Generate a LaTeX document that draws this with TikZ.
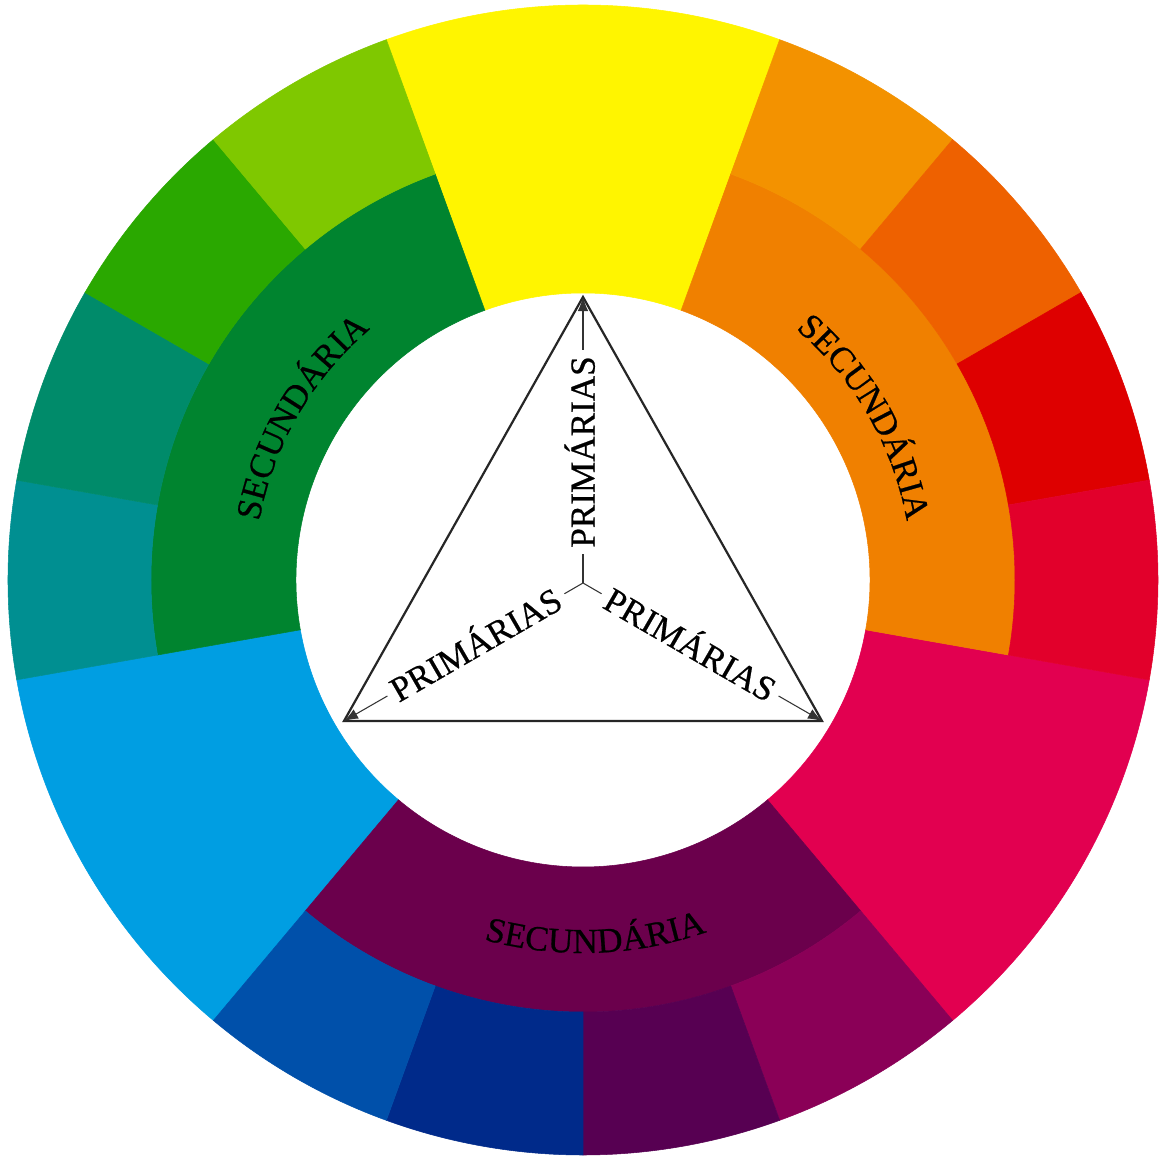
\documentclass[tikz,border=0pt]{standalone}
\usepackage{fontspec}
\setmainfont{Liberation Serif}
\newfontfamily\wheelfont[FakeBold=0.6]{Liberation Serif}
\usetikzlibrary{decorations.text,arrows.meta}

\definecolor{cYellow}{HTML}{FFF500}
\definecolor{cMagenta}{HTML}{E20050}
\definecolor{cCyan}{HTML}{009EE2}
\definecolor{cOrange}{HTML}{F08000}
\definecolor{cPurple}{HTML}{6B004C}
\definecolor{cGreen}{HTML}{00842F}
\definecolor{tLightOrange}{HTML}{F39200}
\definecolor{tDarkOrange}{HTML}{EE6100}
\definecolor{tRed}{HTML}{DE0000}
\definecolor{tCrimson}{HTML}{E2002B}
\definecolor{tRedViolet}{HTML}{8A0057}
\definecolor{tViolet}{HTML}{570052}
\definecolor{tNavy}{HTML}{002A8A}
\definecolor{tBlue}{HTML}{0050AA}
\definecolor{tTeal}{HTML}{008F91}
\definecolor{tSeaGreen}{HTML}{008B6A}
\definecolor{tGrassGreen}{HTML}{2AA800}
\definecolor{tLime}{HTML}{7FC800}

\newcommand{\ringpart}[5]{% colour, start angle, end angle, inner radius, outer radius
  \filldraw[fill=#1, draw=#1, line width=0.3pt] (#2:#4) arc[start angle=#2, end angle=#3, radius=#4]
    -- (#3:#5) arc[start angle=#3, end angle=#2, radius=#5] -- cycle;}
\newcommand{\secfont}{\wheelfont\fontsize{20}{24}\selectfont}

\tikzset{
  tri/.style={draw=black!85, line width=1.25pt, line join=miter},
  lbl/.style={draw=black!80, line width=0.6pt},
  tip/.style={-{Latex[length=8pt,width=6pt]}},
  prim/.style={font=\wheelfont\fontsize{20}{24}\selectfont, inner xsep=3.5pt, inner ysep=0pt,
               text height=13.2pt, text depth=0pt},
  curvedtext/.style={decorate, decoration={text along path, text align=center, text={|\secfont|#1}}}
}

\begin{document}
\begin{tikzpicture}[x=0.02cm, y=0.02cm]
\useasboundingbox (-583,-578) rectangle (580,580);
\fill[white] (-583,-578) rectangle (580,580);

% primaries
\ringpart{cYellow}{70}{110}{287}{575}
\ringpart{cMagenta}{-50}{-10}{287}{575}
\ringpart{cCyan}{190}{230}{287}{575}
% secondaries
\ringpart{cOrange}{-10}{70}{287}{432}
\ringpart{cPurple}{230}{310}{287}{432}
\ringpart{cGreen}{110}{190}{287}{432}
% tertiaries
\ringpart{tLightOrange}{50}{70}{432}{575}
\ringpart{tDarkOrange}{30}{50}{432}{575}
\ringpart{tRed}{10}{30}{432}{575}
\ringpart{tCrimson}{-10}{10}{432}{575}
\ringpart{tRedViolet}{-70}{-50}{432}{575}
\ringpart{tViolet}{-90}{-70}{432}{575}
\ringpart{tNavy}{-110}{-90}{432}{575}
\ringpart{tBlue}{-130}{-110}{432}{575}
\ringpart{tTeal}{170}{190}{432}{575}
\ringpart{tSeaGreen}{150}{170}{432}{575}
\ringpart{tGrassGreen}{130}{150}{432}{575}
\ringpart{tLime}{110}{130}{432}{575}

% curved labels
\path[curvedtext={SECUNDÁRIA}] (190:329) arc[start angle=190, end angle=110, radius=329];
\path[curvedtext={SECUNDÁRIA}] (70:329) arc[start angle=70, end angle=-10, radius=329];
\path[curvedtext={SECUNDÁRIA}] (-128:373) arc[start angle=-128, end angle=-48, radius=373];

% triangle
\coordinate (T) at (0,283);
\coordinate (L) at (-239,-141);
\coordinate (R) at (239,-141);
\coordinate (J) at (0,-3);
\draw[tri] (T) -- (L) -- (R) -- cycle;

\node[prim, rotate=90] (pt) at (0,128) {PRIMÁRIAS};
\node[prim, rotate=30] (pl) at (-107,-65) {PRIMÁRIAS};
\node[prim, rotate=-30] (pr) at (107,-65) {PRIMÁRIAS};

\draw[lbl] (J) -- (pt);
\draw[lbl] (J) -- (pl);
\draw[lbl] (J) -- (pr);
\draw[lbl, tip] (pt) -- (T);
\draw[lbl, tip] (pl) -- (L);
\draw[lbl, tip] (pr) -- (R);
\end{tikzpicture}
\end{document}
